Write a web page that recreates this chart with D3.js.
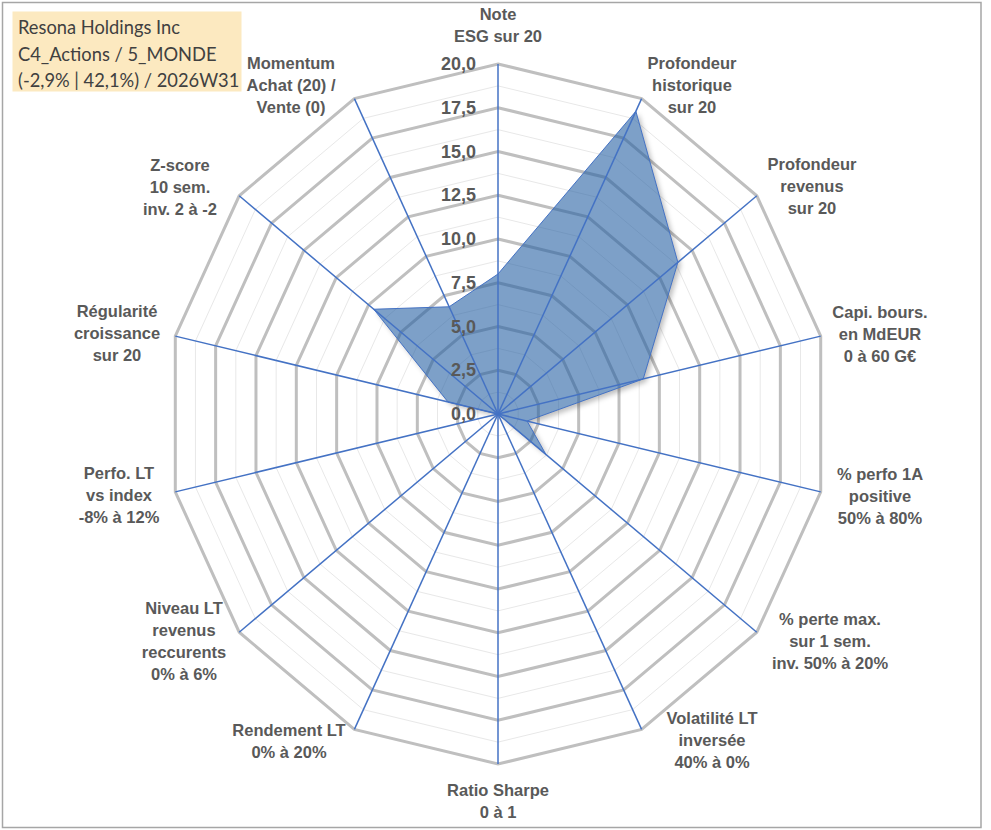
<!DOCTYPE html>
<html><head><meta charset="utf-8">
<script src="https://cdn.jsdelivr.net/npm/d3@7"></script>
<style>
html,body{margin:0;padding:0;background:#fff;}
svg{display:block;}
</style></head>
<body>
<svg id="chart" width="991" height="830"></svg>
<script>
// ---- data ----
const categories = [
  ["Note","ESG sur 20"],
  ["Profondeur","historique","sur 20"],
  ["Profondeur","revenus","sur 20"],
  ["Capi. bours.","en MdEUR","0 à 60 G€"],
  ["% perfo 1A","positive","50% à 80%"],
  ["% perte max.","sur 1 sem.","inv. 50% à 20%"],
  ["Volatilité LT","inversée","40% à 0%"],
  ["Ratio Sharpe","0 à 1"],
  ["Rendement LT","0% à 20%"],
  ["Niveau LT","revenus","reccurents","0% à 6%"],
  ["Perfo. LT","vs index","-8% à 12%"],
  ["Régularité","croissance","sur 20"],
  ["Z-score","10 sem.","inv. 2 à -2"],
  ["Momentum","Achat (20) /","Vente (0)"]
];
const values = [8.0, 19.2, 13.9, 9.0, 1.8, 3.7, 0, 0, 0, 0, 0, 3.1, 9.6, 6.8];
const tickValues = [0, 2.5, 5, 7.5, 10, 12.5, 15, 17.5, 20];
const tickLabels = ["0,0","2,5","5,0","7,5","10,0","12,5","15,0","17,5","20,0"];
const minorValues = [1.25, 3.75, 6.25, 8.75, 11.25, 13.75, 16.25, 18.75];
const titleLines = ["Resona Holdings Inc", "C4_Actions / 5_MONDE", "(-2,9% | 42,1%) / 2026W31"];
// label anchor positions (layout)
const labelPos = [
  [498,14],[692,63],[812,164],[880,312],[880,474],[830,619],[712,718],
  [498,790],[289,730],[184,608],[119,473],[117,311],[180,165],[291,63]
];

// ---- layout ----
const cx = 498, cy = 414, rx = 331, ry = 350;
const svg = d3.select("#chart");
const N = categories.length;
const angle = d3.scaleLinear().domain([0, N]).range([0, 2*Math.PI]);
const r = d3.scaleLinear().domain([0, 20]).range([0, 1]);
const px = (i, v) => cx + rx * r(v) * Math.sin(angle(i));
const py = (i, v) => cy - ry * r(v) * Math.cos(angle(i));
const FONT = "Arial, 'Liberation Sans', sans-serif";

// frame
svg.append("rect").attr("x",2.5).attr("y",2.5).attr("width",978.5).attr("height",825)
  .attr("fill","#fff").attr("stroke","#a6a6a6").attr("stroke-width",1.5);

const idx = d3.range(N);
const ring = v => d3.line().x(i => px(i, v)).y(i => py(i, v))(idx) + "Z";
const dataLine = d3.line().x((v,i) => px(i, v)).y((v,i) => py(i, v));
const dataPath = dataLine(values) + "Z";

const defs = svg.append("defs");
const f = defs.append("filter").attr("id","blur").attr("x","-20%").attr("y","-20%").attr("width","140%").attr("height","140%");
f.append("feGaussianBlur").attr("stdDeviation",2.5);
const m = defs.append("mask").attr("id","outside").attr("maskUnits","userSpaceOnUse")
  .attr("x",0).attr("y",0).attr("width",991).attr("height",830);
m.append("rect").attr("width",991).attr("height",830).attr("fill","#fff");
m.append("path").attr("d", dataPath).attr("fill","#000");

// minor grid
svg.append("g").selectAll("path").data(minorValues).join("path")
  .attr("d", ring).attr("fill","none").attr("stroke","#e8e8e8").attr("stroke-width",1);
// major grid
svg.append("g").selectAll("path").data(tickValues.filter(v => v > 0)).join("path")
  .attr("d", ring).attr("fill","none").attr("stroke","#bfbfbf").attr("stroke-width",3);

// shadow (outside only)
svg.append("g").attr("mask","url(#outside)")
  .append("path").attr("d", dataPath).attr("transform","translate(3,3)")
  .attr("fill","#000").attr("fill-opacity",0.25).attr("filter","url(#blur)");

// data polygon
svg.append("path").attr("d", dataPath)
  .attr("fill","#2661a3").attr("fill-opacity",0.6)
  .attr("stroke","#4472c4").attr("stroke-width",1);

// spokes
svg.append("g").selectAll("line").data(idx).join("line")
  .attr("x1", cx).attr("y1", cy)
  .attr("x2", i => px(i, 20)).attr("y2", i => py(i, 20))
  .attr("stroke","#4472c4").attr("stroke-width",1.5);

// tick labels
svg.append("g").selectAll("text").data(tickValues).join("text")
  .attr("x", 476).attr("y", v => cy - ry * r(v))
  .attr("text-anchor","end").attr("dominant-baseline","central")
  .attr("font-family",FONT).attr("font-weight","bold")
  .attr("font-size",18).attr("fill","#595959")
  .text((v,i) => tickLabels[i]);

// category labels
const lg = svg.append("g").attr("font-family",FONT)
  .attr("font-weight","bold").attr("font-size",16.5).attr("fill","#595959");
categories.forEach((lines, i) => {
  const t = lg.append("text").attr("text-anchor","middle");
  lines.forEach((s, k) => {
    t.append("tspan").attr("x", labelPos[i][0]).attr("y", labelPos[i][1] + k*22)
      .attr("dominant-baseline","central").text(s);
  });
});

// title box
svg.append("rect").attr("x",12.5).attr("y",11.5).attr("width",229).attr("height",80).attr("fill","#fce9c0");
const tt = svg.append("g").attr("font-family","Lato, 'Open Sans', sans-serif").attr("font-size",18.3).attr("fill","#404040");
titleLines.forEach((s,k) => {
  tt.append("text").attr("x",18).attr("y",27 + k*26.5).attr("dominant-baseline","central").text(s);
});
</script>
</body></html>
